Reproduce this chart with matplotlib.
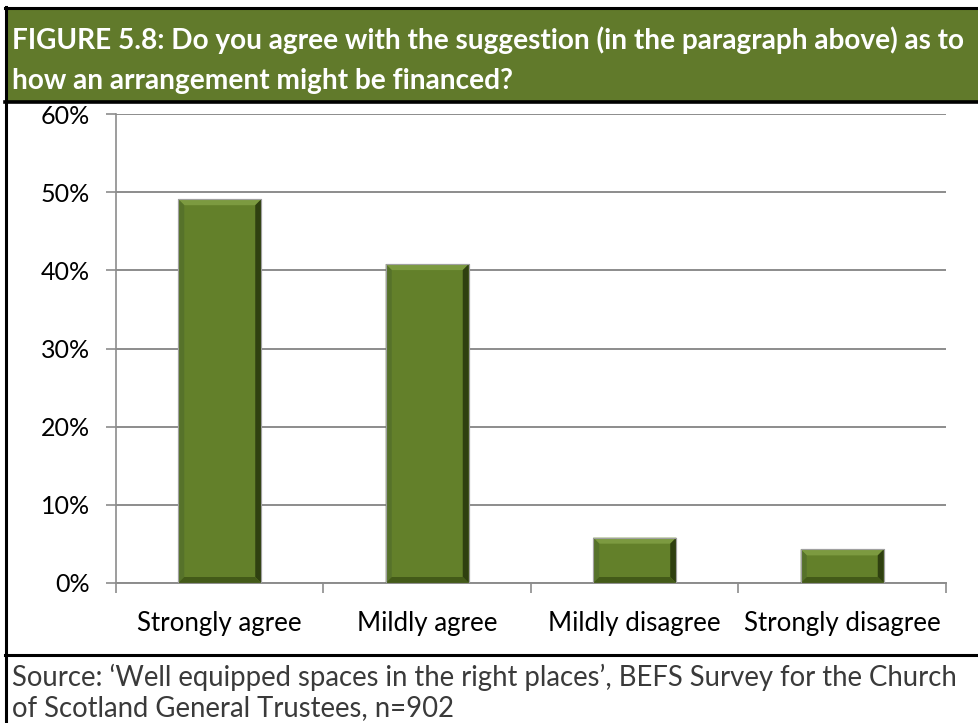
import matplotlib.pyplot as plt
from matplotlib.patches import Rectangle, Polygon
from matplotlib.lines import Line2D
import numpy as np

categories = ['Strongly agree', 'Mildly agree', 'Mildly disagree', 'Strongly disagree']
shares = [0.491, 0.408, 0.058, 0.043]
yticks = [0.0, 0.1, 0.2, 0.3, 0.4, 0.5, 0.6]

title_lines = ['FIGURE 5.8: Do you agree with the suggestion (in the paragraph above) as to',
               'how an arrangement might be financed?']
source_lines = ['Source: \u2018Well equipped spaces in the right places\u2019, BEFS Survey for the Church',
                'of Scotland General Trustees, n=902']

W, H = 979, 723
GREEN = '#617a2b'
FACE = '#63802a'

plt.rcParams['font.family'] = ['Lato', 'DejaVu Sans']

fig = plt.figure(figsize=(W / 100, H / 100), dpi=100)


def fx(px):
    return px / W


def fy(py):
    # pixel rows counted from the top
    return 1 - py / H


# header band and frame
fig.add_artist(Rectangle((fx(6), fy(102)), fx(W - 6), fy(8) - fy(102),
                         transform=fig.transFigure, facecolor=GREEN, edgecolor='none'))
for y, lw in [(8, 2.2), (102, 2.6), (655, 2.2)]:
    fig.add_artist(Line2D([fx(5), 1], [fy(y), fy(y)], transform=fig.transFigure,
                          color='black', lw=lw))
fig.add_artist(Line2D([fx(6), fx(6)], [fy(7), 0], transform=fig.transFigure,
                      color='black', lw=2.2))

fig.text(fx(12), fy(40), title_lines[0], color='white', fontsize=20.2,
         fontweight='bold', va='center', ha='left')
fig.text(fx(12), fy(81), title_lines[1], color='white', fontsize=20.2,
         fontweight='bold', va='center', ha='left')

fig.text(fx(12), fy(677), source_lines[0], color='#3a3a3a', fontsize=19.8,
         va='center', ha='left')
fig.text(fx(12), fy(708), source_lines[1], color='#3a3a3a', fontsize=19.8,
         va='center', ha='left')

# chart area
ax = fig.add_axes([fx(116), fy(583), fx(946) - fx(116), fy(114) - fy(583)])
x = np.arange(len(categories))
ax.set_xlim(-0.5, len(categories) - 0.5)
ax.set_ylim(0, 0.6)
ax.set_yticks(yticks)
ax.set_yticklabels([f'{int(round(t * 100))}%' for t in yticks])
ax.yaxis.grid(True, color='#8c8c8c', lw=1.4)
ax.set_axisbelow(True)
for s in ['top', 'right']:
    ax.spines[s].set_visible(False)
ax.spines['left'].set_color('#8c8c8c')
ax.spines['bottom'].set_color('#8c8c8c')
ax.spines['left'].set_linewidth(1.2)
ax.spines['bottom'].set_linewidth(1.4)
ax.set_xticks(np.arange(len(categories) + 1) - 0.5, minor=False)
ax.set_xticklabels([])
ax.set_xticks(x, minor=True)
ax.set_xticklabels(categories, minor=True)
ax.tick_params(axis='x', which='major', length=7, width=1.2, color='#8c8c8c', direction='out')
ax.tick_params(axis='x', which='minor', length=0, pad=20, labelsize=18.6)
ax.tick_params(axis='y', length=7, width=1.2, color='#8c8c8c', pad=12, labelsize=18)

width = 0.4
bars = ax.bar(x, shares, width=width, color=FACE, edgecolor='#9a9a9a', lw=0.8, zorder=3)

# bevelled edges on each bar
fig.canvas.draw()
px_x = ax.transData.transform([(1, 0)])[0][0] - ax.transData.transform([(0, 0)])[0][0]
px_y = ax.transData.transform([(0, 1)])[0][1] - ax.transData.transform([(0, 0)])[0][1]
bx = 6 / px_x
by = 6 / px_y
for b in bars:
    x0 = b.get_x()
    x1 = x0 + b.get_width()
    y1 = b.get_height()
    y0 = 0
    sides = [
        ([(x0, y1), (x1, y1), (x1 - bx, y1 - by), (x0 + bx, y1 - by)], '#7c9a40'),
        ([(x0, y0), (x0, y1), (x0 + bx, y1 - by), (x0 + bx, y0 + by)], '#56722a'),
        ([(x1, y0), (x1, y1), (x1 - bx, y1 - by), (x1 - bx, y0 + by)], '#2f4010'),
        ([(x0, y0), (x1, y0), (x1 - bx, y0 + by), (x0 + bx, y0 + by)], '#435a18'),
    ]
    for pts, c in sides:
        ax.add_patch(Polygon(pts, closed=True, facecolor=c, edgecolor='none', zorder=4))
    ax.add_patch(Rectangle((x0, y0), x1 - x0, y1, facecolor='none',
                           edgecolor='#a0a0a0', lw=0.8, zorder=5))

fig.savefig('out.png', dpi=100)
